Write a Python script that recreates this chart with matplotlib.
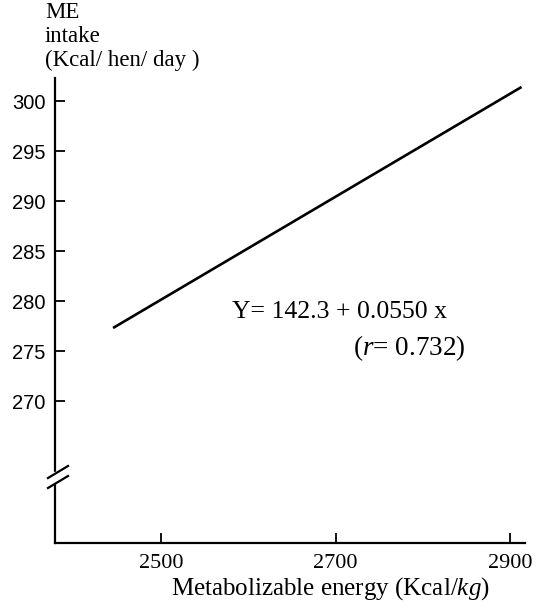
import matplotlib
matplotlib.use("Agg")
import matplotlib.pyplot as plt
from matplotlib.lines import Line2D

# Data
line_x = [2445, 2913]
line_y = [277.3, 301.4]
x_ticks = [2500, 2700, 2900]
y_ticks = [270, 275, 280, 285, 290, 295, 300]
x_label = "Metabolizable energy (Kcal/$\\mathit{kg}$)"
y_label_lines = ["ME", "intake", "(Kcal/ hen/ day )"]
eq_text = "Y= 142.3 + 0.0550 x"
r_text = "($\\mathit{r}$= 0.732)"

SERIF = "Liberation Serif"
SANS = "Liberation Sans"
plt.rcParams["mathtext.fontset"] = "custom"
plt.rcParams["mathtext.it"] = "Liberation Serif:italic"
plt.rcParams["mathtext.rm"] = "Liberation Serif"

fig = plt.figure(figsize=(5.44, 6.03), dpi=100)
ax = fig.add_axes([55/544, 1-543/603, (525-55)/544, (543-78)/603])

ax.plot(line_x, line_y, color="black", lw=1.9, solid_capstyle="butt")
ax.set_xlim(2378.5, 2917)
ax.set_ylim(255.8, 302.3)

for s in ["top", "right"]:
    ax.spines[s].set_visible(False)
for s in ["left", "bottom"]:
    ax.spines[s].set_linewidth(1.6)

ax.set_xticks(x_ticks)
ax.set_yticks(y_ticks)
ax.tick_params(axis="both", direction="in", length=7, width=1.3)
ax.tick_params(axis="y", pad=7)
ax.tick_params(axis="x", pad=8)
for lab in ax.get_yticklabels():
    lab.set_fontfamily(SANS)
    lab.set_fontsize(14.5)
for lab in ax.get_xticklabels():
    lab.set_fontfamily(SERIF)
    lab.set_fontsize(16)

ax.set_xlabel(x_label, fontfamily=SERIF, fontsize=18)
ax.xaxis.set_label_coords((330-55)/470, -(589-543)/465)
ax.xaxis.label.set_va("center")

for i, t in enumerate(y_label_lines):
    fig.text(45/544, 1-(13 + i*23.5)/603, t, fontfamily=SERIF, fontsize=16.5,
             ha="left", va="center")

ax.text(2581, 278.9, eq_text, fontfamily=SERIF, fontsize=18.5, ha="left", va="center")
ax.text(2720, 275.3, r_text, fontfamily=SERIF, fontsize=19.5, ha="left", va="center")

# axis break marks
tr = ax.transAxes
yb = (543-477)/465
gap = 10/465
ax.add_patch(plt.Rectangle((-0.01, yb - gap/2), 0.02, gap, transform=tr,
                           color="white", clip_on=False, zorder=5))
for dy in (-5/465, 5/465):
    ax.add_line(Line2D([-7/470, 13/470], [yb + dy - 6/465, yb + dy + 6/465],
                       transform=tr, color="black", lw=1.6, clip_on=False, zorder=6))

fig.savefig("out.png", dpi=100, facecolor="white")
